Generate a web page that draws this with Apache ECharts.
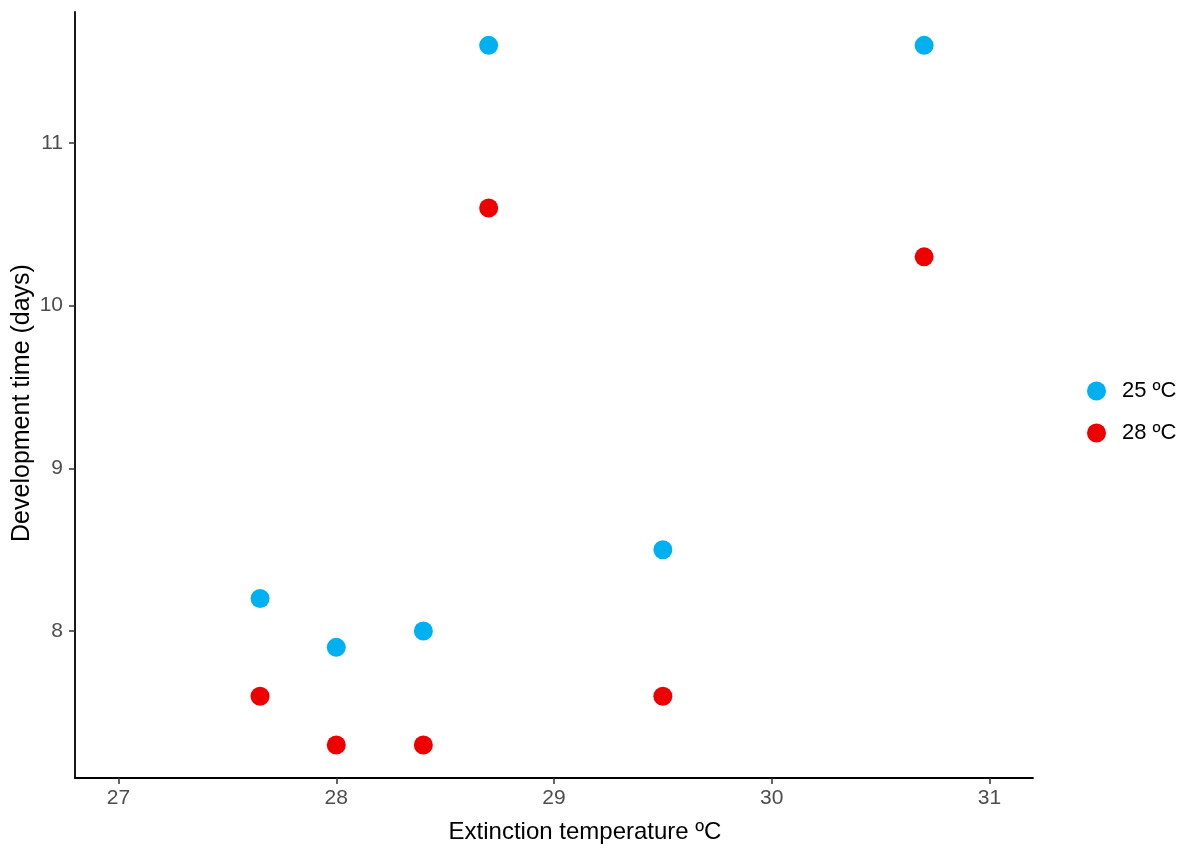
<!DOCTYPE html>
<html>
<head>
<meta charset="utf-8">
<script src="https://cdn.jsdelivr.net/npm/echarts@6/dist/echarts.min.js"></script>
<style>html,body{margin:0;padding:0;background:#fff;}#c{width:1184px;height:850px;}</style>
</head>
<body>
<div id="c"></div>
<script>
const xTicks = [27, 28, 29, 30, 31];
const yTicks = [8, 9, 10, 11];
const seriesNames = ['25 ºC', '28 ºC'];
const x25 = [27.65, 28.0, 28.4, 28.7, 29.5, 30.7];
const y25 = [8.2, 7.9, 8.0, 11.6, 8.5, 11.6];
const x28 = [27.65, 28.0, 28.4, 28.7, 29.5, 30.7];
const y28 = [7.6, 7.3, 7.3, 10.6, 7.6, 10.3];
const colors = ['#00B0F0', '#EE0000'];

const chart = echarts.init(document.getElementById('c'), null, {renderer: 'canvas'});
const font = 'Liberation Sans, Arial, sans-serif';
const axisCommon = {
  axisLine: {show: true, lineStyle: {color: '#000', width: 1.8}},
  axisTick: {show: true, length: 6, lineStyle: {color: '#333', width: 1.5}},
  splitLine: {show: false},
  nameLocation: 'middle',
  nameMoveOverlap: false
};
chart.setOption({
  animation: false,
  backgroundColor: '#fff',
  grid: {left: 75, right: 151, top: 12, bottom: 72, containLabel: false, outerBoundsMode: 'none'},
  legend: {
    orient: 'vertical', left: 1082, top: 375, itemGap: 20,
    itemWidth: 19, itemHeight: 19, icon: 'circle',
    textStyle: {fontSize: 22, color: '#000', fontFamily: font, padding: [0, 0, 0, 11]},
    data: seriesNames
  },
  xAxis: Object.assign({}, axisCommon, {
    type: 'value', min: 26.8, max: 31.2,
    name: 'Extinction temperature ºC', nameGap: 42,
    nameTextStyle: {color: '#000', fontSize: 24, fontFamily: font, padding: [0, 0, 0, 62]},
    axisTick: Object.assign({}, axisCommon.axisTick, {customValues: xTicks}),
    axisLabel: {customValues: xTicks, color: '#4d4d4d', fontSize: 21, fontFamily: font, margin: 10}
  }),
  yAxis: Object.assign({}, axisCommon, {
    type: 'value', min: 7.097, max: 11.805,
    name: 'Development time (days)', nameGap: 40,
    nameTextStyle: {color: '#000', fontSize: 25, fontFamily: font, padding: [0, 16, 0, 0]},
    axisTick: Object.assign({}, axisCommon.axisTick, {customValues: yTicks}),
    axisLabel: {customValues: yTicks, color: '#4d4d4d', fontSize: 21, fontFamily: font, margin: 12}
  }),
  series: [
    {name: seriesNames[0], type: 'scatter', symbolSize: 19, itemStyle: {color: colors[0], opacity: 1},
     data: x25.map((x, i) => [x, y25[i]])},
    {name: seriesNames[1], type: 'scatter', symbolSize: 19, itemStyle: {color: colors[1], opacity: 1},
     data: x28.map((x, i) => [x, y28[i]])}
  ]
});
</script>
</body>
</html>
